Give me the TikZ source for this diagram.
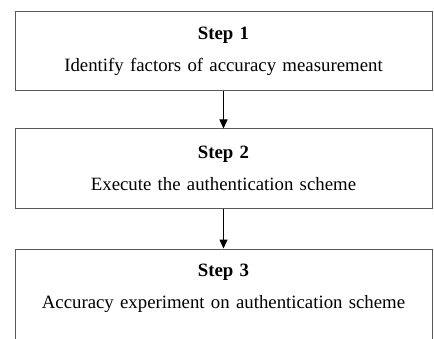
\documentclass[tikz,border=0pt]{standalone}
\usepackage{fontspec}
\setmainfont{Liberation Serif}[WordSpace=0.85]
\usetikzlibrary{positioning,arrows.meta}

\begin{document}
\begin{tikzpicture}[
  node distance=38pt,
  stepbox/.style={rectangle, draw=black!65, line width=1pt, text width=405pt, align=center, minimum width=417pt, minimum height=79pt, inner sep=6pt, font=\fontsize{18.8}{22}\selectfont},
  arrow/.style={-{Triangle[length=9pt,width=8pt]}, line width=1pt, draw=black}
]
  \clip (0,0) rectangle (434pt,338pt);

  \node (step1) [stepbox] at (223.5pt,286.5pt) {\textbf{Step 1}\\[10pt] Identify factors of accuracy measurement};
  \node (step2) [stepbox, below=37pt of step1] {\textbf{Step 2}\\[10pt] Execute the authentication scheme};
  % last box runs off the bottom of the page
  \node (step3) [stepbox, below=40pt of step2, inner ysep=15pt] {\textbf{Step 3}\\[10pt] Accuracy experiment on authentication scheme\\[40pt]\mbox{}};

  \draw [arrow] (step1.south) -- (step2.north);
  \draw [arrow] (step2.south) -- (step3.north);
\end{tikzpicture}
\end{document}
